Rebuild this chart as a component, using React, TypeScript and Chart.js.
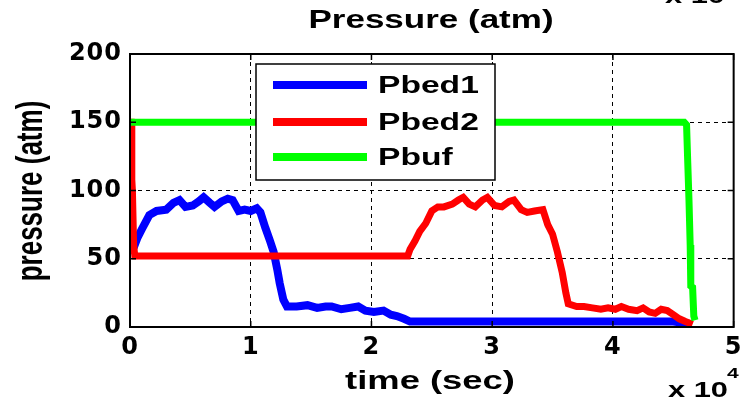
import { useEffect, useRef } from "react";
import { Chart, registerables } from "chart.js";

Chart.register(...registerables);

// time in units of 10^4 s
const xTickValues = [0, 1, 2, 3, 4, 5];
const yTickValues = [0, 50, 100, 150, 200];
const seriesLabels = ["Pbed1", "Pbed2", "Pbuf"];
const seriesColors = ["#0000ff", "#ff0000", "#00ff00"];

const pbed1Time = [0.03, 0.06, 0.1, 0.16, 0.22, 0.3, 0.36, 0.41, 0.46, 0.52, 0.57, 0.61, 0.66, 0.7, 0.76, 0.81, 0.85, 0.9, 0.95, 1.0, 1.05, 1.08, 1.12, 1.16, 1.19, 1.22, 1.24, 1.27, 1.3, 1.38, 1.47, 1.55, 1.62, 1.67, 1.75, 1.82, 1.89, 1.95, 2.02, 2.1, 2.16, 2.21, 2.27, 2.32, 2.4, 3.0, 4.0, 4.5, 4.58, 4.65];
const pbed1Values = [58, 65, 72, 82, 85, 86, 91, 93, 88, 89, 92, 95, 91, 88, 92, 94, 93, 85, 86, 85, 87, 84, 73, 63, 55, 42, 32, 20, 15, 15, 16, 14, 15, 15, 13, 14, 15, 12, 11, 12, 9, 8, 6, 4, 4, 4, 4, 4, 3, 2];

const pbed2Time = [0, 0.01, 0.015, 0.02, 0.03, 0.04, 1.0, 2.3, 2.32, 2.36, 2.4, 2.45, 2.5, 2.55, 2.6, 2.67, 2.72, 2.76, 2.81, 2.86, 2.92, 2.96, 3.02, 3.08, 3.14, 3.18, 3.24, 3.29, 3.35, 3.42, 3.46, 3.5, 3.54, 3.58, 3.61, 3.63, 3.7, 3.76, 3.83, 3.9, 3.96, 4.02, 4.07, 4.13, 4.2, 4.25, 4.3, 4.35, 4.4, 4.45, 4.5, 4.55, 4.6, 4.66];
const pbed2Values = [150, 150, 108, 100, 60, 52, 52, 52, 57, 63, 70, 76, 85, 88, 88, 90, 93, 95, 90, 88, 93, 95, 89, 88, 92, 93, 86, 84, 85, 86, 75, 68, 55, 40, 25, 17, 15, 15, 14, 13, 14, 13, 15, 13, 12, 14, 11, 10, 13, 12, 9, 6, 4, 2];

const pbufTime = [0, 1.0, 2.0, 3.0, 4.0, 4.59, 4.61, 4.62, 4.63, 4.64, 4.645, 4.66, 4.67, 4.68];
const pbufValues = [150, 150, 150, 150, 150, 150, 148, 120, 93, 60, 30, 29, 8, 5];

const FONT = "'Liberation Sans', Arial, sans-serif";
const TICK_FONT = "'DejaVu Sans', 'Liberation Sans', sans-serif";
const STRETCH = 1.4;

function toPoints(t: number[], v: number[]) {
  return t.map((x, i) => ({ x, y: v[i] }));
}

function stretchedText(
  ctx: CanvasRenderingContext2D,
  text: string,
  x: number,
  y: number,
  size: number,
  align: CanvasTextAlign,
  baseline: CanvasTextBaseline = "middle"
) {
  ctx.save();
  (ctx as any).letterSpacing = "0px";
  ctx.translate(x, y);
  ctx.scale(STRETCH, 1);
  ctx.font = `bold ${size}px ${FONT}`;
  ctx.fillStyle = "#000";
  ctx.textAlign = align;
  ctx.textBaseline = baseline;
  ctx.fillText(text, 0, 0);
  ctx.restore();
}

const TICK_SPACING = "1px";

const decorPlugin = {
  id: "decor",
  beforeDraw(chart: any) {
    const ctx = chart.ctx as CanvasRenderingContext2D;
    ctx.save();
    ctx.fillStyle = "#fff";
    ctx.fillRect(0, 0, chart.width, chart.height);
    ctx.restore();
    (ctx as any).letterSpacing = TICK_SPACING;
  },
  afterDatasetsDraw(chart: any) {
    const ctx = chart.ctx as CanvasRenderingContext2D;
    (ctx as any).letterSpacing = "0px";
    // legend box
    const bx = 256, by = 64, bw = 239, bh = 116;
    ctx.save();
    ctx.fillStyle = "#fff";
    ctx.fillRect(bx, by, bw, bh);
    ctx.strokeStyle = "#000";
    ctx.lineWidth = 1.5;
    ctx.strokeRect(bx, by, bw, bh);
    const rows = [85, 122, 157];
    chart.data.datasets.forEach((ds: any, i: number) => {
      ctx.strokeStyle = ds.borderColor;
      ctx.lineWidth = 8;
      ctx.beginPath();
      ctx.moveTo(273, rows[i]);
      ctx.lineTo(367, rows[i]);
      ctx.stroke();
      stretchedText(ctx, ds.label, 378, rows[i] + 1, 24, "left");
    });
    ctx.restore();

    // frame and inward ticks
    const a = chart.chartArea;
    const xs = chart.scales.x;
    const ys = chart.scales.y;
    ctx.save();
    ctx.strokeStyle = "#000";
    ctx.lineWidth = 2;
    ctx.setLineDash([]);
    ctx.strokeRect(a.left, a.top, a.right - a.left, a.bottom - a.top);
    ctx.lineWidth = 1.5;
    ctx.beginPath();
    xTickValues.forEach((v) => {
      const px = xs.getPixelForValue(v);
      ctx.moveTo(px, a.bottom);
      ctx.lineTo(px, a.bottom - 6);
      ctx.moveTo(px, a.top);
      ctx.lineTo(px, a.top + 6);
    });
    yTickValues.forEach((v) => {
      const py = ys.getPixelForValue(v);
      ctx.moveTo(a.left, py);
      ctx.lineTo(a.left + 6, py);
      ctx.moveTo(a.right, py);
      ctx.lineTo(a.right - 6, py);
    });
    ctx.stroke();
    ctx.restore();
    (ctx as any).letterSpacing = TICK_SPACING;
  },
  afterDraw(chart: any) {
    const ctx = chart.ctx as CanvasRenderingContext2D;
    (ctx as any).letterSpacing = "0px";
    stretchedText(ctx, "Pressure (atm)", 431, 21, 25, "center");
    stretchedText(ctx, "time (sec)", 430, 382, 26, "center");
    stretchedText(ctx, "x 10", 668, 397, 22, "left", "alphabetic");
    stretchedText(ctx, "4", 727, 378, 15, "left", "alphabetic");
    stretchedText(ctx, "x 10", 665, 3, 22, "left", "alphabetic");
    // y title rotated
    ctx.save();
    ctx.translate(32, 191);
    ctx.scale(STRETCH, 1);
    ctx.rotate(-Math.PI / 2);
    ctx.font = `bold 26px ${FONT}`;
    ctx.fillStyle = "#000";
    ctx.textAlign = "center";
    ctx.textBaseline = "middle";
    ctx.fillText("pressure (atm)", 0, 0);
    ctx.restore();
  },
};

export default function App() {
  const ref = useRef<HTMLCanvasElement | null>(null);
  useEffect(() => {
    if (!ref.current) return;
    const chart = new Chart(ref.current, {
      type: "line",
      data: {
        datasets: [
          { label: seriesLabels[0], data: toPoints(pbed1Time, pbed1Values), borderColor: seriesColors[0], backgroundColor: seriesColors[0], borderWidth: 8, pointRadius: 0, tension: 0, order: 3 },
          { label: seriesLabels[1], data: toPoints(pbed2Time, pbed2Values), borderColor: seriesColors[1], backgroundColor: seriesColors[1], borderWidth: 7, pointRadius: 0, tension: 0, order: 2 },
          { label: seriesLabels[2], data: toPoints(pbufTime, pbufValues), borderColor: seriesColors[2], backgroundColor: seriesColors[2], borderWidth: 7, pointRadius: 0, tension: 0, order: 1 },
        ] as any,
      },
      options: {
        animation: false,
        responsive: false,
        maintainAspectRatio: false,
        layout: { padding: { left: 0, right: 7, top: 54, bottom: 0 } },
        plugins: { legend: { display: false }, tooltip: { enabled: false }, title: { display: false } },
        scales: {
          x: {
            type: "linear",
            min: 0,
            max: 5,
            afterBuildTicks: (s: any) => { s.ticks = xTickValues.map((v) => ({ value: v })); },
            afterFit: (s: any) => { s.height = 73; },
            grid: { color: "#000", lineWidth: 1, drawTicks: false },
            border: { display: false, dash: [4, 4] },
            ticks: { color: "#000", padding: 6, font: { family: TICK_FONT, size: 24, weight: "bold" }, maxRotation: 0, autoSkip: false },
          },
          y: {
            type: "linear",
            min: 0,
            max: 200,
            afterBuildTicks: (s: any) => { s.ticks = yTickValues.map((v) => ({ value: v })); },
            afterFit: (s: any) => { s.width = 130; },
            grid: { color: "#000", lineWidth: 1, drawTicks: false },
            border: { display: false, dash: [4, 4] },
            ticks: { color: "#000", padding: 8, font: { family: TICK_FONT, size: 24, weight: "bold" } },
          },
        },
      } as any,
      plugins: [decorPlugin],
    });
    return () => chart.destroy();
  }, []);
  return (
    <div style={{ position: "fixed", left: 0, top: 0, width: 748, height: 400, background: "#fff" }}>
      <canvas ref={ref} width={748} height={400} style={{ width: 748, height: 400, display: "block" }} />
    </div>
  );
}
